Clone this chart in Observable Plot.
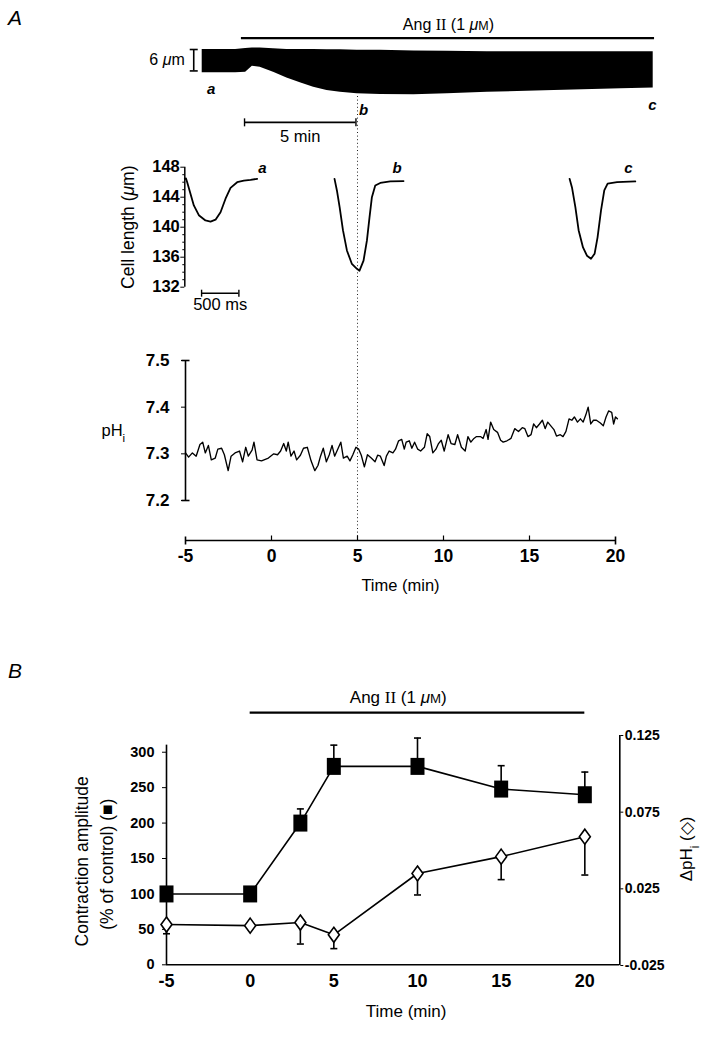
<!DOCTYPE html>
<html><head><meta charset="utf-8">
<script src="https://cdn.jsdelivr.net/npm/d3@7"></script>
<script src="https://cdn.jsdelivr.net/npm/@observablehq/plot@0.6"></script>
<style>
html,body{margin:0;padding:0;background:#fff;}
#fig{position:relative;width:706px;height:1037px;overflow:hidden;font-family:"Liberation Sans",Arial,Helvetica,sans-serif;color:#000;}
#fig svg{position:absolute;left:0;top:0;}
.panel{position:absolute;font-style:italic;font-size:21px;line-height:1;}
</style></head><body><div id="fig"><div class="panel" style="left:8px;top:7px">A</div><div class="panel" style="left:8px;top:660px">B</div></div>
<script>
// ================= DATA =================
// Panel A (top): chart record of cell length, envelope of twitches (µm) vs time (min)
const bandTimeMin   = [-2.0,-0.5,-0.05,0.25,0.6,1.2,1.8,2.4,3.0,3.6,4.2,4.95,6.0,7.5,9.0,10.8,13.8,16.8,18.24];
const bandDiastolic = [147.0,147.0,147.3,147.4,147.4,147.2,147.0,147.0,147.0,146.9,146.9,146.8,146.8,146.6,146.5,146.4,146.4,146.4,146.4];
const bandSystolic  = [140.5,140.5,140.6,142.3,142.0,140.6,139.0,137.7,136.4,135.5,135.0,134.6,134.4,134.3,134.6,135.0,135.5,136.0,136.2];
const angStartMin = 0, angEndMin = 18.3;

// Panel A (middle): single twitches a, b, c — time (ms) and cell length (µm)
const twitchNames = ["a","b","c"];
const twitchOffsetMs = [0, 2007, 5158];
const twitchA_ms  = [0,16,32,76,121,188,277,345,412,479,546,613,702,791,881,970];
const twitchA_len = [146.45,146.5,146.0,144.45,142.9,141.6,140.9,140.75,141.0,142.0,143.8,145.25,146.0,146.2,146.3,146.45];
const twitchB_ms  = [0,32,68,113,166,233,300,335,389,434,469,501,546,613,747,925];
const twitchB_len = [146.45,144.9,142.7,139.6,136.9,135.1,134.45,134.2,135.55,138.2,141.3,144.0,145.55,145.9,146.1,146.15];
const twitchC_ms  = [0,32,77,121,180,233,287,335,375,421,465,510,636,881];
const twitchC_len = [146.45,145.3,142.7,139.6,137.3,136.2,135.8,136.45,138.65,142.2,144.9,145.8,146.0,146.1];
const cellTicks = [132,136,140,144,148];
const cellMinorTicks = [133,134,135,137,138,139,141,142,143,145,146,147];

// Panel A (bottom): pHi trace
const pHTimeMin = [-5.00,-4.82,-4.60,-4.38,-4.16,-4.00,-3.85,-3.67,-3.50,-3.27,-3.12,-2.90,-2.74,-2.52,-2.35,-2.12,-1.86,-1.68,-1.50,-1.35,-1.13,-1.02,-0.84,-0.58,-0.18,0.13,0.35,0.53,0.71,0.86,0.97,1.13,1.31,1.46,1.68,1.86,2.08,2.30,2.52,2.70,2.85,3.01,3.19,3.36,3.52,3.67,3.85,4.03,4.18,4.40,4.56,4.73,4.91,5.07,5.22,5.40,5.58,5.80,6.02,6.17,6.33,6.55,6.68,6.84,7.06,7.21,7.39,7.57,7.72,7.83,8.01,8.16,8.32,8.50,8.67,8.89,9.05,9.20,9.38,9.56,9.71,9.87,10.04,10.27,10.44,10.66,10.82,11.04,11.26,11.42,11.59,11.77,11.92,12.15,12.30,12.48,12.59,12.74,12.92,13.14,13.32,13.47,13.69,13.92,14.14,14.36,14.58,14.73,14.91,15.09,15.24,15.40,15.58,15.75,15.91,16.06,16.24,16.42,16.57,16.79,16.95,17.12,17.30,17.46,17.61,17.79,17.96,18.12,18.27,18.41,18.56,18.72,18.89,19.12,19.29,19.45,19.60,19.78,19.89,20.00,20.11];
const pHValues = [7.302,7.293,7.302,7.295,7.320,7.325,7.302,7.318,7.287,7.291,7.310,7.312,7.298,7.264,7.295,7.302,7.306,7.283,7.314,7.295,7.308,7.325,7.287,7.285,7.291,7.300,7.298,7.306,7.322,7.306,7.325,7.295,7.306,7.287,7.297,7.312,7.314,7.285,7.264,7.275,7.295,7.312,7.283,7.298,7.318,7.295,7.310,7.325,7.291,7.295,7.285,7.298,7.314,7.310,7.297,7.272,7.298,7.291,7.283,7.297,7.295,7.275,7.295,7.306,7.302,7.310,7.328,7.331,7.310,7.325,7.328,7.312,7.325,7.310,7.306,7.314,7.343,7.337,7.302,7.310,7.322,7.329,7.306,7.341,7.322,7.320,7.341,7.314,7.306,7.337,7.325,7.333,7.337,7.337,7.333,7.352,7.331,7.368,7.352,7.346,7.329,7.325,7.328,7.333,7.354,7.348,7.356,7.354,7.337,7.341,7.364,7.356,7.364,7.372,7.354,7.368,7.360,7.352,7.338,7.341,7.337,7.348,7.375,7.372,7.379,7.368,7.375,7.368,7.383,7.400,7.364,7.372,7.372,7.366,7.360,7.379,7.392,7.389,7.364,7.379,7.375];
const pHTicks = [7.2,7.3,7.4,7.5];
const timeTicksA = [-5,0,5,10,15,20];

// Panel B: mean ± s.e.m.
const timeB = [-5,0,3,5,10,15,20];
const contraction = [100,100,200,280,280,248,240];
const contractionSE = [0,0,20,30,40,33,32];
const dpH = [0.0017,0.001,0.003,-0.005,0.035,0.046,0.059];
const dpHSE = [0.006,0,0.014,0.009,0.014,0.015,0.025];
const contractionTicks = [0,50,100,150,200,250,300];
const dpHTicks = [-0.025,0.025,0.075,0.125];
const timeTicksB = [-5,0,5,10,15,20];

// ================= HELPERS =================
const W = 706, H = 1037;
const FONT = "Liberation Sans, Arial, Helvetica, sans-serif";
const base = {width: W, height: H, style: {background: "transparent", overflow: "visible", fontFamily: FONT, color: "black"}};
const hcap = (w) => ({draw(ctx){ ctx.moveTo(-w,0); ctx.lineTo(w,0); }});
const vcap = (a,b) => ({draw(ctx){ ctx.moveTo(0,a); ctx.lineTo(0,b); }});
const rectSym = (w,h) => ({draw(ctx){ ctx.rect(-w/2,-h/2,w,h); }});
const diamondSym = (w,h) => ({draw(ctx){ ctx.moveTo(0,-h/2); ctx.lineTo(w/2,0); ctx.lineTo(0,h/2); ctx.lineTo(-w/2,0); ctx.closePath(); }});

const band = bandTimeMin.map((t,i) => ({t, top: bandDiastolic[i], bottom: bandSystolic[i]}));
const twitchMs = [twitchA_ms, twitchB_ms, twitchC_ms], twitchLen = [twitchA_len, twitchB_len, twitchC_len];
const cell = twitchNames.flatMap((n,k) => twitchMs[k].map((ms,i) => ({trace: n, x: twitchOffsetMs[k] + ms, len: twitchLen[k][i]})));
const pH = pHTimeMin.map((t,i) => ({t, v: pHValues[i]}));
const rowsB = timeB.map((t,i) => ({t, c: contraction[i], cse: contractionSE[i], d: dpH[i], dse: dpHSE[i]}));

const fig = document.getElementById("fig");

// ---------- A1: chart record ----------
fig.appendChild(Plot.plot({...base,
  marginLeft: 201.7, marginRight: 47.5, marginTop: 31.15, marginBottom: H - 109.7,
  x: {domain: [-2, 18.5], axis: null},
  y: {domain: [130, 152], axis: null},
  marks: [
    Plot.areaY(band, {x: "t", y1: "bottom", y2: "top", fill: "black", curve: "linear"}),
    Plot.ruleY([150.2], {x1: angStartMin - 0.24, x2: angEndMin, strokeWidth: 2.2}),
    Plot.text(["Ang II (1 μM)"], {x: 9.05, y: 153.9, fontSize: 16}),
    Plot.ruleX([-2.38], {y1: 141, y2: 147, strokeWidth: 1.6}),
    Plot.dot([141,147], {x: -2.38, y: d => d, symbol: hcap(4), stroke: "black", fill: "none", strokeWidth: 1.6}),
    Plot.text(["6 μm"], {x: -2.38, y: 144, dx: -9, textAnchor: "end", fontSize: 16}),
    Plot.text(["a","b","c"], {x: [-1.6, 5.24, 18.2], y: [136.0, 129.9, 131.3], text: d => d, fontSize: 15, fontWeight: "bold", fontStyle: "italic"}),
    Plot.ruleY([126.6], {x1: -0.1, x2: 4.9, strokeWidth: 1.6}),
    Plot.dot([-0.1, 4.9], {x: d => d, y: 126.6, symbol: vcap(-4,4), stroke: "black", fill: "none", strokeWidth: 1.4}),
    Plot.text(["5 min"], {x: 2.4, y: 122.6, fontSize: 16.5})
  ]
}));

// ---------- A3: pHi (drawn before twitches so dotted line sits beneath) ----------
const yA3min = 7.11429, yA3max = 8.06571;
fig.appendChild(Plot.plot({...base,
  marginLeft: 185, marginRight: 91, marginTop: 96, marginBottom: H - 540,
  x: {domain: [-5, 20], axis: null},
  y: {domain: [yA3min, yA3max]},
  marks: [
    Plot.ruleX([5], {stroke: "#222", strokeWidth: 1, strokeDasharray: "1,2.6"}),
    Plot.ruleX([-5], {y1: 7.2, y2: 7.5, strokeWidth: 1.6}),
    Plot.axisY({ticks: pHTicks, tickSize: 4, tickPadding: 12, tickFormat: d3.format(".1f"), fontSize: 17, fontWeight: "bold", label: null}),
    Plot.dot([7.2, 7.5], {x: -5, y: d => d, symbol: hcap(4), stroke: "black", fill: "none", strokeWidth: 1.6}),
    Plot.line(pH, {x: "t", y: "v", strokeWidth: 1.35, curve: "linear"}),
    Plot.ruleY([yA3min], {x1: -5, x2: 20, strokeWidth: 1.6}),
    Plot.dot(timeTicksA.filter(d => d > -5 && d < 20), {x: d => d, frameAnchor: "bottom", symbol: vcap(-5,0), stroke: "black", fill: "none", strokeWidth: 1.2}),
    Plot.dot([-5, 20], {x: d => d, frameAnchor: "bottom", symbol: vcap(-4,4), stroke: "black", fill: "none", strokeWidth: 1.6}),
    Plot.text(timeTicksA, {x: d => d, frameAnchor: "bottom", dy: 21, text: d => String(d), fontSize: 17.5, fontWeight: "bold"}),
    Plot.text(["Time (min)"], {x: 7.5, frameAnchor: "bottom", dy: 50, fontSize: 16.5}),
    Plot.text(["pH_i"], {x: -5, y: 7.35, dx: -84, textAnchor: "start", fontSize: 16.5})
  ]
}));

// ---------- A2: twitches ----------
fig.appendChild(Plot.plot({...base,
  marginLeft: 184.3, marginRight: 36.8, marginTop: 166.7, marginBottom: H - 286.7,
  x: {domain: [0, 6500], axis: null},
  y: {domain: [132, 148]},
  marks: [
    Plot.ruleX([0], {y1: 132, y2: 148, strokeWidth: 1.5}),
    Plot.axisY({ticks: cellMinorTicks, tickSize: 2, tickFormat: () => "", label: null}),
    Plot.axisY({ticks: cellTicks, tickSize: 4, tickPadding: 1, fontSize: 16.5, fontWeight: "bold", label: null}),
    Plot.line(cell, {x: "x", y: "len", z: "trace", strokeWidth: 1.8, curve: "linear"}),
    Plot.text(twitchNames, {x: [1041, 2847, 5948], y: 147.9, text: d => d, fontSize: 15, fontWeight: "bold", fontStyle: "italic"}),
    Plot.ruleY([131.2], {x1: 225, x2: 725, strokeWidth: 1.6}),
    Plot.dot([225, 725], {x: d => d, y: 131.2, symbol: vcap(-3.5,3.5), stroke: "black", fill: "none", strokeWidth: 1.4}),
    Plot.text(["500 ms"], {x: 475, y: 129.6, fontSize: 16.5}),
    Plot.text(["Cell length (μm)"], {x: 0, y: 140, dx: -56, rotate: -90, fontSize: 17.5})
  ]
}));

// ---------- B: contraction amplitude (left axis) ----------
const xMaxB = 22.09;
fig.appendChild(Plot.plot({...base,
  marginLeft: 166, marginRight: 86.7, marginTop: 735, marginBottom: H - 964.3,
  x: {domain: [-5, xMaxB], axis: null},
  y: {domain: [0, 323.6]},
  marks: [
    Plot.ruleY([356], {x1: 0, x2: 20, strokeWidth: 2.2}),
    Plot.text(["Ang II (1 μM)"], {x: 8.85, y: 377.2, fontSize: 17}),
    Plot.ruleY([0], {x1: -5, x2: xMaxB, strokeWidth: 1.6}),
    Plot.ruleX([-5], {y1: 0, y2: 310, strokeWidth: 1.6}),
    Plot.axisY({ticks: contractionTicks, tickSize: 4, tickPadding: 8, fontSize: 14.5, fontWeight: "bold", label: null}),
    Plot.text(timeTicksB, {x: d => d, frameAnchor: "bottom", dy: 22, text: d => String(d), fontSize: 18, fontWeight: "bold"}),
    Plot.text(["Time (min)"], {x: 9.32, frameAnchor: "bottom", dy: 52, fontSize: 17}),
    Plot.text(["Contraction amplitude"], {x: -5, y: 146, dx: -84, rotate: -90, fontSize: 17.5}),
    Plot.text(["(% of control) (■)"], {x: -5, y: 142, dx: -59, rotate: -90, fontSize: 17.5}),
    Plot.ruleX(rowsB.filter(d => d.cse > 0), {x: "t", y1: "c", y2: d => d.c + d.cse, strokeWidth: 1.6}),
    Plot.dot(rowsB.filter(d => d.cse > 0), {x: "t", y: d => d.c + d.cse, symbol: hcap(3.5), stroke: "black", fill: "none", strokeWidth: 1.6}),
    Plot.line(rowsB, {x: "t", y: "c", strokeWidth: 1.6}),
    Plot.dot(rowsB, {x: "t", y: "c", symbol: rectSym(14, 17), fill: "black", stroke: "none"})
  ]
}));

// ---------- B: ΔpHi (right axis) ----------
fig.appendChild(Plot.plot({...base,
  marginLeft: 166, marginRight: 86.7, marginTop: 735, marginBottom: H - 965,
  x: {domain: [-5, xMaxB], axis: null},
  y: {domain: [-0.025, 0.125]},
  marks: [
    Plot.ruleX([xMaxB], {strokeWidth: 1.6}),
    Plot.axisY({anchor: "right", ticks: dpHTicks, tickSize: 3, tickPadding: 2, tickFormat: d => String(d), fontSize: 14, fontWeight: "bold", label: null}),
    Plot.text(["ΔpH_i (◇)"], {x: xMaxB, y: 0.051, dx: 67, rotate: -90, fontSize: 17}),
    Plot.ruleX(rowsB.filter(d => d.dse > 0), {x: "t", y1: "d", y2: d => d.d - d.dse, strokeWidth: 1.6}),
    Plot.dot(rowsB.filter(d => d.dse > 0), {x: "t", y: d => d.d - d.dse, symbol: hcap(3.5), stroke: "black", fill: "none", strokeWidth: 1.6}),
    Plot.line(rowsB, {x: "t", y: "d", strokeWidth: 1.6}),
    Plot.dot(rowsB, {x: "t", y: "d", symbol: diamondSym(11, 15), fill: "white", stroke: "black", strokeWidth: 1.6})
  ]
}));

// ---------- typographic touches: italic μ, subscript i, serif roman numeral, small-cap M ----------
(function enrich(root){
  const NS = "http://www.w3.org/2000/svg";
  const walker = document.createTreeWalker(root, NodeFilter.SHOW_TEXT);
  const nodes = []; while (walker.nextNode()) nodes.push(walker.currentNode);
  const re = /(μ)|(_i)|(II)|(M(?=\)))/g;
  for (const n of nodes) {
    const s = n.data;
    if (!(n.parentNode instanceof SVGElement)) continue;
    re.lastIndex = 0; if (!re.test(s)) continue; re.lastIndex = 0;
    const frag = document.createDocumentFragment();
    let last = 0, m;
    while ((m = re.exec(s))) {
      if (m.index > last) frag.appendChild(document.createTextNode(s.slice(last, m.index)));
      const t = document.createElementNS(NS, "tspan");
      if (m[1]) { t.textContent = "μ"; t.setAttribute("font-style", "italic"); }
      else if (m[2]) { t.textContent = "i"; t.setAttribute("font-size", "70%"); t.setAttribute("baseline-shift", "sub"); }
      else if (m[3]) { t.textContent = "II"; t.setAttribute("font-family", "Liberation Serif, serif"); }
      else { t.textContent = "M"; t.setAttribute("font-size", "78%"); }
      frag.appendChild(t);
      last = m.index + m[0].length;
    }
    if (last < s.length) frag.appendChild(document.createTextNode(s.slice(last)));
    n.parentNode.replaceChild(frag, n);
  }
})(fig);
</script></body></html>
